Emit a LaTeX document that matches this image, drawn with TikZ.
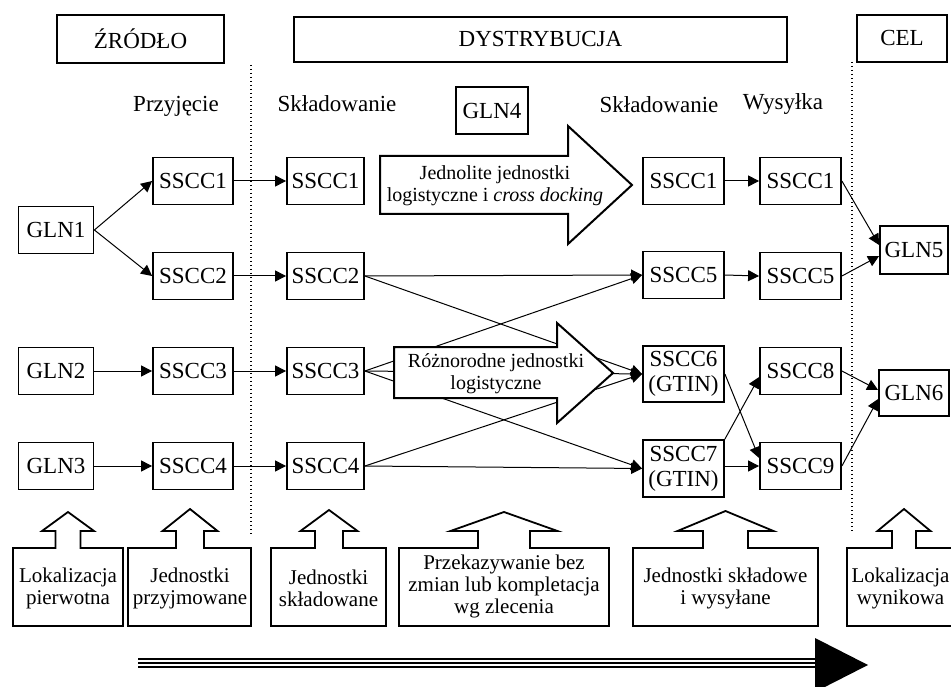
\documentclass[tikz,border=0pt]{standalone}
\usepackage{fontspec}
\setmainfont{Liberation Serif}
\usetikzlibrary{arrows.meta,calc}
\newcommand\myCallout[6]{%
  \draw[cbox] (#1,548) -- ({#3-#4},548) -- ({#3-#4},531) -- ({#3-#5},531) -- (#3,#6)
    -- ({#3+#5},531) -- ({#3+#4},531) -- ({#3+#4},548) -- (#2,548) -- (#2,626) -- (#1,626) -- cycle;}
\begin{document}
\begin{tikzpicture}[x=1pt,y=-1pt,
  bx/.style={draw,line width=1.8pt,inner sep=0pt,minimum height=47pt,
    font=\fontsize{23}{25}\selectfont,align=center},
  conn/.style={line width=1pt,-{Triangle[length=11pt,width=11pt]}},
  lbl/.style={inner sep=0pt,anchor=base,font=\fontsize{23}{25}\selectfont},
  big/.style={draw,line width=2pt,fill=white,line join=miter},
  btxt/.style={inner sep=0pt,align=center,font=\fontsize{20}{22}\selectfont},
  ctxt/.style={inner sep=0pt,align=center,font=\fontsize{21}{22}\selectfont},
  cbox/.style={draw,line width=1.8pt,line join=miter},
  sep/.style={line width=1.2pt,dash pattern=on 1.3pt off 2.7pt}]
\useasboundingbox (0,0) rectangle (951,687);
\clip (0,0) rectangle (951,687);

% headers
\node[bx,minimum width=167pt,minimum height=48pt] (hz) at (140.5,39) {ŹRÓDŁO};
\node[bx,minimum width=493pt,minimum height=45pt] (hd) at (540.5,39.5) {DYSTRYBUCJA};
\node[bx,minimum width=90pt] (hc) at (902,38.5) {CEL};

% separators
\draw[sep] (251,65) -- (251,535);
\draw[sep] (852,62) -- (852,532);

% column labels
\node[lbl] (lp) at (176,112) {Przyjęcie};
\node[lbl] (ls1) at (337,112) {Składowanie};
\node[lbl] (ls2) at (659,113) {Składowanie};
\node[lbl] (lw) at (783,110) {Wysyłka};
\node[bx,minimum width=72pt] (g4) at (492,110.5) {GLN4};

% column 1
\node[bx,minimum width=75pt] (g1) at (56,230) {GLN1};
\node[bx,minimum width=75pt] (g2) at (56,371) {GLN2};
\node[bx,minimum width=75pt] (g3) at (56,466) {GLN3};
% column 2
\node[bx,minimum width=80pt] (s1a) at (193,181) {SSCC1};
\node[bx,minimum width=80pt] (s2a) at (193,276) {SSCC2};
\node[bx,minimum width=80pt] (s3a) at (193,371) {SSCC3};
\node[bx,minimum width=80pt] (s4a) at (193,466) {SSCC4};
% column 3
\node[bx,minimum width=77pt] (s1b) at (325.5,181) {SSCC1};
\node[bx,minimum width=77pt] (s2b) at (325.5,276) {SSCC2};
\node[bx,minimum width=77pt] (s3b) at (325.5,371) {SSCC3};
\node[bx,minimum width=77pt] (s4b) at (325.5,466) {SSCC4};
% column 4
\node[bx,minimum width=81pt] (s1d) at (683.5,181) {SSCC1};
\node[bx,minimum width=81pt] (s5d) at (683.5,275) {SSCC5};
\node[bx,minimum width=81pt,minimum height=56pt] (s6) at (683.5,374) {SSCC6\\(GTIN)};
\node[bx,minimum width=81pt,minimum height=57pt] (s7) at (683.5,468.5) {SSCC7\\(GTIN)};
% column 5
\node[bx,minimum width=81pt] (s1e) at (800.5,181) {SSCC1};
\node[bx,minimum width=81pt] (s5e) at (800.5,276) {SSCC5};
\node[bx,minimum width=81pt] (s8) at (800.5,371) {SSCC8};
\node[bx,minimum width=81pt] (s9) at (800.5,466) {SSCC9};
% column 6
\node[bx,minimum width=68pt,minimum height=48pt] (g5) at (914,250) {GLN5};
\node[bx,minimum width=70pt,minimum height=46pt] (g6) at (914,393) {GLN6};

% connectors
\draw[conn] (g1.east) -- (s1a.west);
\draw[conn] (g1.east) -- (s2a.west);
\draw[conn] (g2.east) -- (s3a.west);
\draw[conn] (g3.east) -- (s4a.west);
\draw[conn] (s1a.east) -- (s1b.west);
\draw[conn] (s2a.east) -- (s2b.west);
\draw[conn] (s3a.east) -- (s3b.west);
\draw[conn] (s4a.east) -- (s4b.west);
\draw[conn] (s2b.east) -- (s5d.west);
\draw[conn] (s2b.east) -- (s6.west);
\draw[conn] (s3b.east) -- (s5d.west);
\draw[conn] (s3b.east) -- (s6.west);
\draw[conn] (s3b.east) -- (s7.west);
\draw[conn] (s4b.east) -- (s6.west);
\draw[conn] (s4b.east) -- (s7.west);
\draw[conn] (s1d.east) -- (s1e.west);
\draw[conn] (s5d.east) -- (s5e.west);
\draw[conn] (s6.east) -- ($(s9.west)+(0,-8)$);
\draw[conn] (s7.north east) -- ($(s8.west)+(0,6)$);
\draw[conn] (s7.east |- s9.west) -- (s9.west);
\draw[conn] (s1e.east) -- ($(g5.west)+(0,-5)$);
\draw[conn] (s5e.east) -- ($(g5.west)+(0,6)$);
\draw[conn] (s8.east) -- ($(g6.west)+(0,-3)$);
\draw[conn] (s9.east) -- ($(g6.west)+(0,6)$);

% big arrows
\draw[big] (380,156) -- (568,156) -- (568,126) -- (632,185) -- (568,244) -- (568,214) -- (380,214) -- cycle;
\node[btxt] (t1) at (495,186) {Jednolite jednostki\\logistyczne i \textit{cross docking}};
\draw[big] (394,347) -- (557,347) -- (557,323) -- (613,373) -- (557,423) -- (557,398) -- (394,398) -- cycle;
\node[btxt] (t2) at (496,374) {Różnorodne jednostki\\logistyczne};

% bottom callouts
\myCallout{13}{123}{68}{12.5}{26}{512}
\myCallout{128}{251}{190}{14}{27.5}{509}
\myCallout{271}{386}{329}{14}{28.5}{510}
\myCallout{399}{609}{504}{26}{53.5}{512}
\myCallout{633}{818}{725.5}{22.5}{48}{511}
\myCallout{847}{961}{904}{12}{26.5}{509}
\node[ctxt] (c1) at (68,588) {Lokalizacja\\pierwotna};
\node[ctxt] (c2) at (190,588) {Jednostki\\przyjmowane};
\node[ctxt] (c3) at (328.5,588) {Jednostki\\składowane};
\node[ctxt] (c4) at (504,586) {Przekazywanie bez\\zmian lub kompletacja\\wg zlecenia};
\node[ctxt] (c5) at (725.5,588) {Jednostki składowe\\i wysyłane};
\node[ctxt] (c6) at (900.5,588) {Lokalizacja\\wynikowa};

% bottom flow arrow
\draw[line width=2pt] (138,659) -- (815,659);
\draw[line width=2pt] (138,663.2) -- (815,663.2);
\draw[line width=2pt] (138,666.8) -- (815,666.8);
\fill (815,638) -- (868,665) -- (815,692) -- cycle;
\end{tikzpicture}
\end{document}
